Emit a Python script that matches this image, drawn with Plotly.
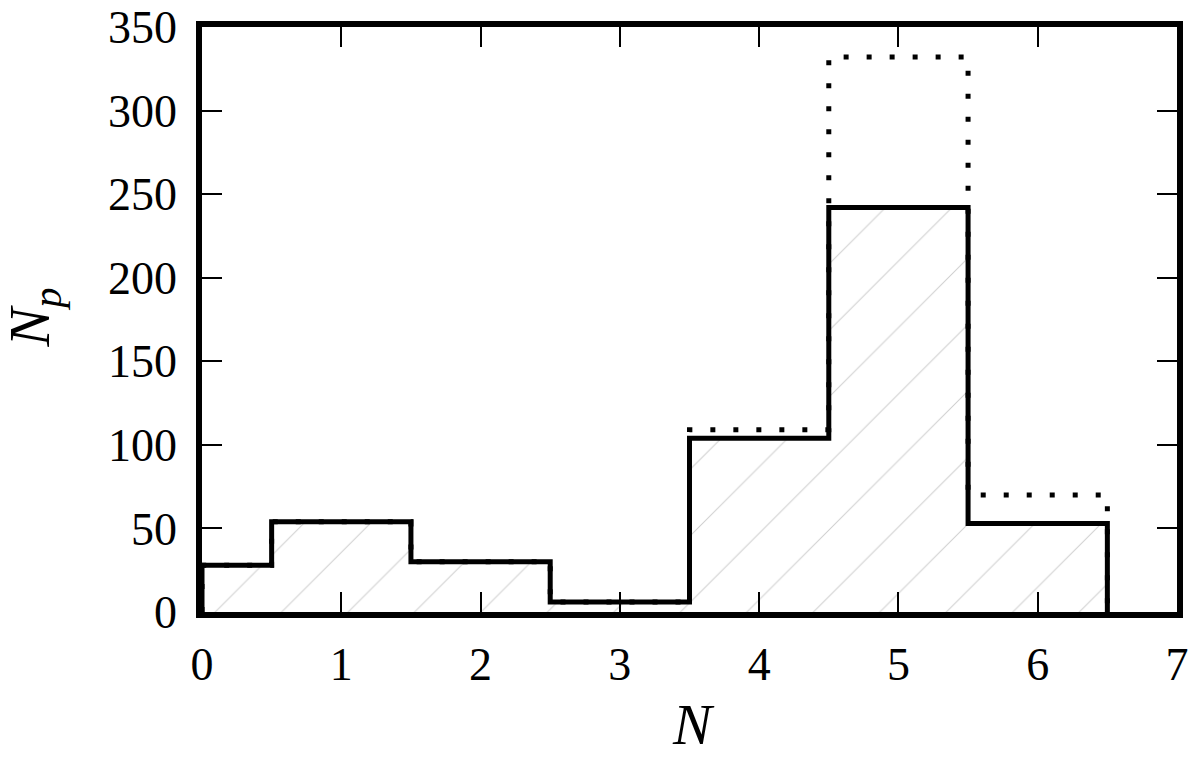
import plotly.graph_objects as go

# bin edges and counts
bin_edges = [0, 0.5, 1.5, 2.5, 3.5, 4.5, 5.5, 6.5]
solid_counts = [28, 54, 30, 6, 104, 242, 53]
dotted_counts = [28, 54, 30, 6, 109, 332, 70]

x_ticks = [0, 1, 2, 3, 4, 5, 6, 7]
y_ticks = [0, 50, 100, 150, 200, 250, 300, 350]

def step_path(edges, vals):
    xs, ys = [edges[0]], [0]
    for i, v in enumerate(vals):
        xs += [edges[i], edges[i + 1]]
        ys += [v, v]
    xs.append(edges[-1])
    ys.append(0)
    return xs, ys

centers = [(bin_edges[i] + bin_edges[i + 1]) / 2 for i in range(len(solid_counts))]
widths = [bin_edges[i + 1] - bin_edges[i] for i in range(len(solid_counts))]

FONT = "Liberation Serif"

fig = go.Figure()
fig.add_trace(go.Bar(
    x=centers, y=solid_counts, width=widths,
    marker=dict(color="white", line=dict(width=0),
                pattern=dict(shape="/", fgcolor="#cfcfcf", bgcolor="white",
                             size=47, solidity=0.022, fillmode="replace")),
    showlegend=False, hoverinfo="skip",
))
dx, dy = step_path(bin_edges, dotted_counts)
fig.add_trace(go.Scatter(x=dx, y=dy, mode="lines",
                         line=dict(color="black", width=5, dash="5px,18px"),
                         showlegend=False, hoverinfo="skip"))
sx, sy = step_path(bin_edges, solid_counts)
fig.add_trace(go.Scatter(x=sx, y=sy, mode="lines",
                         line=dict(color="black", width=5),
                         showlegend=False, hoverinfo="skip"))

axis_common = dict(
    showline=True, linecolor="black", linewidth=5.5, mirror="ticks",
    ticks="inside", ticklen=20, tickwidth=2, tickcolor="black",
    showgrid=False, zeroline=False, automargin=False,
    ticklabeloverflow="allow",
    tickfont=dict(family=FONT, size=46, color="black"),
)

fig.update_xaxes(range=[0, 7], tickvals=x_ticks, ticklabelstandoff=7, **axis_common)
fig.update_yaxes(range=[0, 350], tickvals=y_ticks, ticklabelstandoff=10, **axis_common)

fig.add_annotation(text="<i>N</i>", xref="paper", yref="paper",
                   x=0.5036, y=-0.193, xanchor="center", yanchor="middle",
                   showarrow=False, font=dict(family=FONT, size=58, color="black"))
fig.add_annotation(text="<i>N</i><sub><i>p</i></sub>", xref="paper", yref="paper",
                   x=-0.173, y=0.504, xanchor="center", yanchor="middle", textangle=-90,
                   showarrow=False, font=dict(family=FONT, size=58, color="black"))

# page has an 8px body margin: figure is offset by 8px in x and y
fig.update_layout(
    width=1184, height=741,
    margin=dict(l=194, r=15, t=19, b=137),
    plot_bgcolor="white", paper_bgcolor="white",
    bargap=0,
)

fig.write_html("out.html")
